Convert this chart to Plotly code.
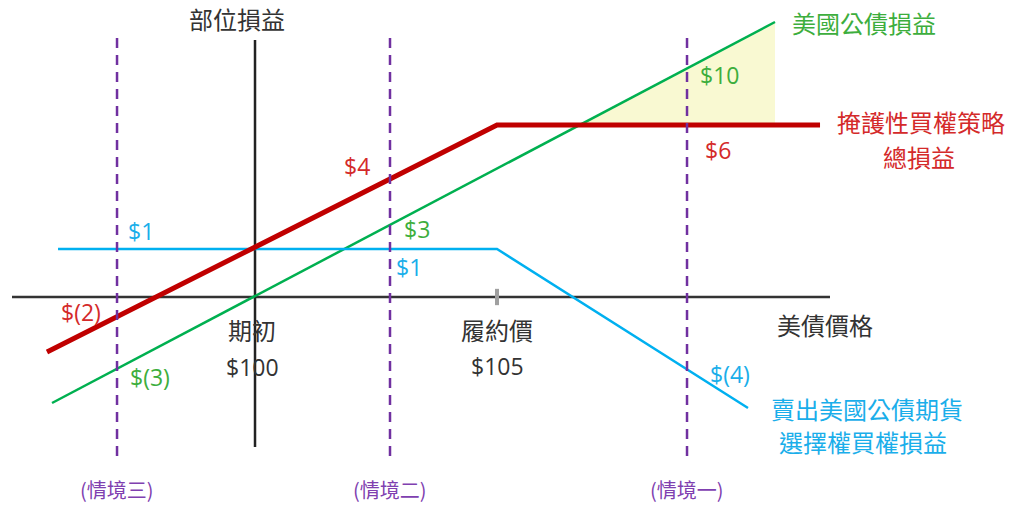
import plotly.graph_objects as go

FONT = "Noto Sans CJK TC"
NUMFONT = "Open Sans"

# ---- data (price on x, P/L in schematic $ units on y) ----
bond_x = [95.806, 110.744]
bond_y = [-2.208, 5.729]

strategy_x = [95.702, 105.0, 111.674]
strategy_y = [-1.146, 3.583, 3.583]

call_x = [95.930, 105.0, 110.186]
call_y = [1.0, 1.0, -2.3125]

gain_x = [106.715, 110.744, 110.744, 106.715]
gain_y = [3.583, 5.729, 3.583, 3.583]

scenario_x = [97.149, 102.789, 108.926]
scenario_names = ["(情境三)", "(情境二)", "(情境一)"]
scenario_y = [5.396, -3.4375]

axis_x_span = [94.979, 111.880]
axis_y_span = [5.354, -3.125]
strike = 105.0
start = 100.0

GREEN = "#00B050"
GREEN_T = "#3DAE3D"
RED = "#C00000"
RED_T = "#D42A2A"
BLUE = "#00B0F0"
BLUE_T = "#1AAEEA"
PURPLE = "#7030A0"
PURPLE_T = "#8040B0"

fig = go.Figure()

# yellow gain triangle
fig.add_trace(go.Scatter(x=gain_x, y=gain_y, fill="toself", fillcolor="#F9F9D2",
                         line=dict(width=0), mode="lines", hoverinfo="skip"))
# axes
fig.add_trace(go.Scatter(x=axis_x_span, y=[0, 0], mode="lines",
                         line=dict(color="#333333", width=2.5)))
fig.add_trace(go.Scatter(x=[start, start], y=axis_y_span, mode="lines",
                         line=dict(color="#222222", width=2.5)))
# strike tick
fig.add_trace(go.Scatter(x=[strike, strike], y=[0.17, -0.17], mode="lines",
                         line=dict(color="#A0A0A0", width=4)))
# series
fig.add_trace(go.Scatter(x=bond_x, y=bond_y, mode="lines",
                         line=dict(color=GREEN, width=2.5)))
fig.add_trace(go.Scatter(x=call_x, y=call_y, mode="lines",
                         line=dict(color=BLUE, width=2.5)))
fig.add_trace(go.Scatter(x=strategy_x, y=strategy_y, mode="lines",
                         line=dict(color=RED, width=5)))
# scenario dashed lines
for sx in scenario_x:
    fig.add_trace(go.Scatter(x=[sx, sx], y=scenario_y, mode="lines",
                             line=dict(color=PURPLE, width=2.5, dash="10px,7px")))

ann = []
def txt(x, y, t, color, size=24, family=FONT):
    ann.append(dict(x=x, y=y, text=t, showarrow=False, xref="x", yref="y",
                    font=dict(family=family, size=size, color=color),
                    xanchor="center", yanchor="middle"))

def num(x, y, t, color):
    txt(x, y, t, color, size=23, family=NUMFONT)

txt(99.628, 5.8125, "部位損益", "#333333")
txt(112.583, 5.729, "美國公債損益", GREEN_T)
txt(113.760, 3.646, "掩護性買權策略", RED_T)
txt(113.719, 2.917, "總損益", RED_T)
txt(111.777, -0.583, "美債價格", "#333333")
txt(99.938, -0.667, "期初", "#333333")
num(99.938, -1.458, "$100", "#333333")
txt(105.0, -0.667, "履約價", "#333333")
num(105.0, -1.4375, "$105", "#333333")
txt(112.645, -2.3125, "賣出美國公債期貨", BLUE_T)
txt(112.562, -3.02, "選擇權買權損益", BLUE_T)
for sx, nm in zip(scenario_x, scenario_names):
    txt(sx, -4.0, nm, PURPLE_T, 20)
num(109.607, 4.625, "$10", GREEN_T)
num(109.566, 3.0625, "$6", RED_T)
num(102.107, 2.729, "$4", RED_T)
num(103.347, 1.417, "$3", GREEN_T)
num(103.182, 0.625, "$1", BLUE_T)
num(97.645, 1.375, "$1", BLUE_T)
num(96.405, -0.3125, "$(2)", RED_T)
num(97.831, -1.667, "$(3)", GREEN_T)
num(109.814, -1.604, "$(4)", BLUE_T)

fig.update_layout(
    width=1017, height=506, autosize=False,
    margin=dict(l=0, r=0, t=0, b=0),
    paper_bgcolor="white", plot_bgcolor="white",
    showlegend=False,
    annotations=ann,
    xaxis=dict(range=[94.731, 115.744], visible=False, fixedrange=True),
    yaxis=dict(range=[-4.354, 6.1875], visible=False, fixedrange=True),
)

fig.write_html("out.html", config={"displayModeBar": False})
